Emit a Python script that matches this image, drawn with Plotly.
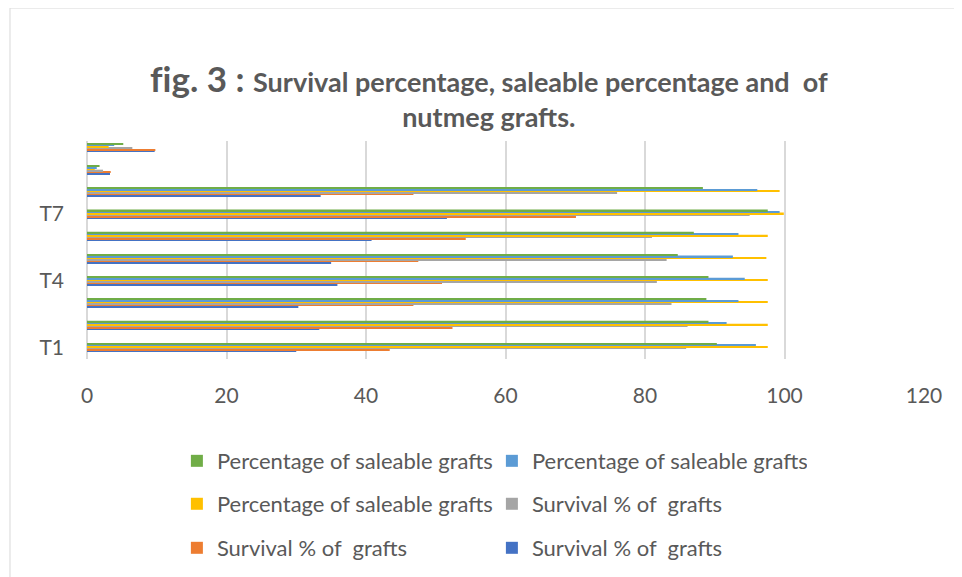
import plotly.graph_objects as go

categories = ["T1", "T2", "T3", "T4", "T5", "T6", "T7", "T8", "SEm±", "CD at 5%"]
shown_ticks = ["T1", "T4", "T7"]

survival_a = [30.0, 33.3, 30.3, 35.9, 35.0, 40.8, 51.6, 33.5, 3.3, 9.7]   # blue
survival_b = [43.4, 52.4, 46.8, 50.9, 47.5, 54.3, 70.1, 46.8, 3.4, 9.8]   # orange
survival_c = [85.9, 86.1, 83.8, 81.7, 83.1, 81.0, 95.0, 76.0, 2.3, 6.5]   # gray
saleable_a = [97.6, 97.6, 97.6, 97.6, 97.4, 97.6, 99.9, 99.3, 1.1, 3.1]   # yellow
saleable_b = [95.9, 91.7, 93.4, 94.3, 92.6, 93.4, 99.3, 96.1, 1.4, 3.9]   # light blue
saleable_c = [90.3, 89.1, 88.8, 89.1, 84.7, 87.0, 97.6, 88.3, 1.8, 5.2]   # green

series = [
    ("Survival % of  grafts", survival_a, "#4472C4", "legend3"),
    ("Survival % of  grafts", survival_b, "#ED7D31", "legend3"),
    ("Survival % of  grafts", survival_c, "#A5A5A5", "legend2"),
    ("Percentage of saleable grafts", saleable_a, "#FFC000", "legend2"),
    ("Percentage of saleable grafts", saleable_b, "#5B9BD5", "legend"),
    ("Percentage of saleable grafts", saleable_c, "#70AD47", "legend"),
]

FONT = "Lato, Open Sans, sans-serif"
GREY = "#595959"

fig = go.Figure()
for name, vals, color, leg in series:
    fig.add_trace(go.Bar(
        y=categories, x=vals, name=name, orientation="h",
        marker=dict(color=color, line=dict(width=0)),
        legend=leg,
    ))

legend_common = dict(
    orientation="h", traceorder="reversed", xanchor="left", yanchor="middle",
    font=dict(family=FONT, size=22, color=GREY),
    entrywidth=270, entrywidthmode="pixels", itemwidth=30,
    bgcolor="rgba(0,0,0,0)",
)

fig.update_layout(
    width=954, height=569,
    margin=dict(l=79, r=38, t=133, b=218, autoexpand=False),
    paper_bgcolor="white", plot_bgcolor="white",
    barmode="group", bargap=0.595, bargroupgap=0,
    title=dict(
        text="<span style='font-size:35px'>f\u200cig. 3 : </span>Survival percentage, saleable percentage and  of<br>nutmeg grafts.",
        x=0.504, xanchor="center", xref="container",
        y=0.853, yanchor="middle", yref="container",
        font=dict(family=FONT, size=27, color=GREY, weight="bold"),
    ),
    xaxis=dict(
        range=[0, 120], dtick=20, showgrid=True, gridcolor="#D9D9D9", gridwidth=2,
        zeroline=True, zerolinecolor="#D9D9D9", zerolinewidth=2,
        tickfont=dict(family=FONT, size=21, color=GREY),
        ticks="", ticklabelstandoff=22,
    ),
    yaxis=dict(
        type="category", categoryorder="array", categoryarray=categories,
        range=[-0.52, 9.29], tickvals=shown_ticks, ticks="", showgrid=False,
        tickfont=dict(family=FONT, size=21, color=GREY), ticklabelstandoff=22,
    ),
    legend=dict(legend_common, x=0.1074, y=-0.468),
    legend2=dict(legend_common, x=0.1074, y=-0.665),
    legend3=dict(legend_common, x=0.1074, y=-0.867),
    showlegend=True,
    shapes=[dict(type="rect", xref="paper", yref="paper",
                 x0=-0.092, x1=1.037, y0=-1.1, y1=1.61,
                 line=dict(color="#D9D9D9", width=1), layer="below")],
)

fig.write_html("out.html")
